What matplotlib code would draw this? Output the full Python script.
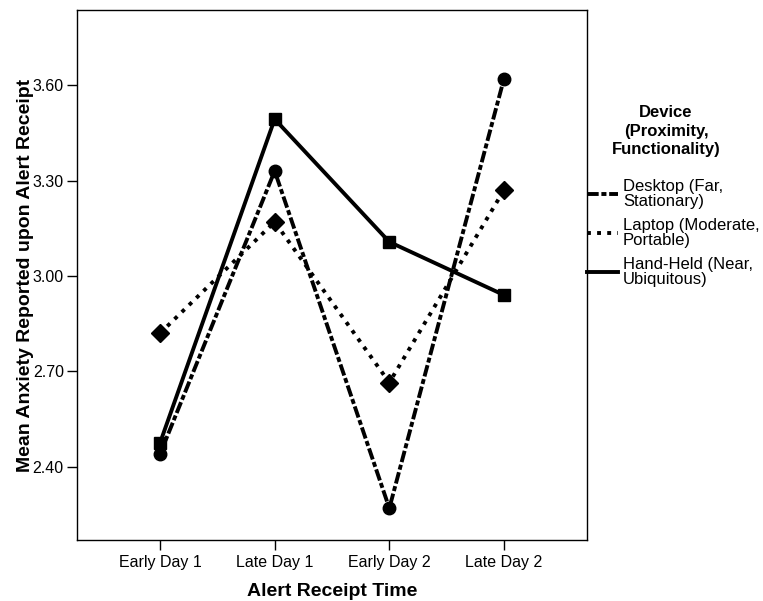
import matplotlib
matplotlib.use("Agg")
import matplotlib.pyplot as plt
from matplotlib.lines import Line2D
from matplotlib.ticker import FormatStrFormatter

plt.rcParams['font.family'] = ['Liberation Sans', 'DejaVu Sans']

categories = ["Early Day 1", "Late Day 1", "Early Day 2", "Late Day 2"]
desktop = [2.44, 3.33, 2.27, 3.62]
laptop = [2.82, 3.17, 2.665, 3.27]
handheld = [2.475, 3.493, 3.107, 2.94]
labels = ["Desktop (Far,\nStationary)", "Laptop (Moderate,\nPortable)", "Hand-Held (Near,\nUbiquitous)"]
yticks = [2.40, 2.70, 3.00, 3.30, 3.60]

W, H = 763, 601
fig = plt.figure(figsize=(W / 100, H / 100), dpi=100)
ax = fig.add_axes([77 / W, 1 - 540 / H, (587 - 77) / W, (540 - 10) / H])

x = list(range(len(categories)))
lw = 2.8
dash_desk = (0, (3.0, 0.7, 1.3, 0.7))
dot_lap = (0, (1.0, 1.6))

ax.plot(x, handheld, color='black', lw=lw, linestyle='-', marker='s', ms=9, zorder=3)
ax.plot(x, laptop, color='black', lw=lw, linestyle=dot_lap, marker='D', ms=9, zorder=4)
ax.plot(x, desktop, color='black', lw=lw, linestyle=dash_desk, marker='o', ms=9, zorder=5)

ax.set_xlim(-0.724, 3.724)
ax.set_ylim(2.17, 3.836)
ax.set_xticks(x)
ax.set_xticklabels(categories)
ax.set_yticks(yticks)
ax.yaxis.set_major_formatter(FormatStrFormatter('%.2f'))
ax.tick_params(axis='both', direction='out', length=7.5, width=1, labelsize=11.5)
ax.tick_params(axis='x', pad=3.5)
ax.tick_params(axis='y', pad=2)
for s in ax.spines.values():
    s.set_linewidth(1.0)
    s.set_color('black')

ax.set_xlabel("Alert Receipt Time", fontsize=14, fontweight='bold', labelpad=9.5)
ax.set_ylabel("Mean Anxiety Reported upon Alert Receipt", fontsize=14, fontweight='bold', labelpad=-1)

fig.text(666 / W, 1 - 105 / H, "Device\n(Proximity,\nFunctionality)", ha='center', va='top',
         fontsize=12, fontweight='bold', linespacing=1.3)

handles = [Line2D([], [], color='black', lw=lw, linestyle=dash_desk),
           Line2D([], [], color='black', lw=lw, linestyle=dot_lap),
           Line2D([], [], color='black', lw=lw, linestyle='-')]
leg = fig.legend(handles, labels, loc='upper left', bbox_to_anchor=(587 / W, 1 - 179 / H),
                 frameon=False, borderpad=0, borderaxespad=0, handlelength=1.85,
                 handletextpad=0.3, labelspacing=0.52, fontsize=12)
for t in leg.get_texts():
    t.set_linespacing(1.03)

fig.savefig("out.png", dpi=100)
